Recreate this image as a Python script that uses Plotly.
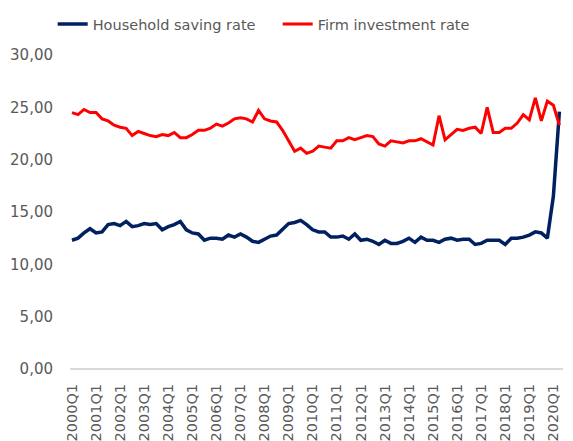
import plotly.graph_objs as go

# Quarterly data 2000Q1 - 2020Q2
quarters = [f'{y}Q{q}' for y in range(2000, 2021) for q in range(1, 5)][:82]

household_saving = [
    12.3, 12.5, 13.0, 13.4, 13.0, 13.1, 13.8, 13.9,
    13.7, 14.1, 13.6, 13.7, 13.9, 13.8, 13.9, 13.3,
    13.6, 13.8, 14.1, 13.3, 13.0, 12.9, 12.3, 12.5,
    12.5, 12.4, 12.8, 12.6, 12.9, 12.6, 12.2, 12.1,
    12.4, 12.7, 12.8, 13.3, 13.9, 14.0, 14.2, 13.8,
    13.3, 13.1, 13.1, 12.6, 12.6, 12.7, 12.4, 12.9,
    12.3, 12.4, 12.2, 11.9, 12.3, 12.0, 12.0, 12.2,
    12.5, 12.1, 12.6, 12.3, 12.3, 12.1, 12.4, 12.5,
    12.3, 12.4, 12.4, 11.9, 12.0, 12.3, 12.3, 12.3,
    11.9, 12.5, 12.5, 12.6, 12.8, 13.1, 13.0, 12.5,
    16.5, 24.6,
]

firm_investment = [
    24.5, 24.3, 24.8, 24.5, 24.5, 23.9, 23.7, 23.3,
    23.1, 23.0, 22.3, 22.7, 22.5, 22.3, 22.2, 22.4,
    22.3, 22.6, 22.1, 22.1, 22.4, 22.8, 22.8, 23.0,
    23.4, 23.2, 23.5, 23.9, 24.0, 23.9, 23.6, 24.7,
    23.9, 23.7, 23.6, 22.8, 21.8, 20.8, 21.1, 20.6,
    20.8, 21.3, 21.2, 21.1, 21.8, 21.8, 22.1, 21.9,
    22.1, 22.3, 22.2, 21.5, 21.3, 21.8, 21.7, 21.6,
    21.8, 21.8, 22.0, 21.7, 21.4, 24.2, 21.9, 22.4,
    22.9, 22.8, 23.0, 23.1, 22.5, 25.0, 22.6, 22.6,
    23.0, 23.0, 23.5, 24.3, 23.8, 25.9, 23.7, 25.6,
    25.2, 23.3,
]

tick_labels = [q for q in quarters if q.endswith('Q1')]

font = 'DejaVu Sans'
grey = '#595959'

fig = go.Figure()
fig.add_trace(go.Scatter(x=quarters, y=household_saving, mode='lines',
                         name='Household saving rate',
                         line={'color': '#002060', 'width': 3.5}))
fig.add_trace(go.Scatter(x=quarters, y=firm_investment, mode='lines',
                         name='Firm investment rate',
                         line={'color': '#ff0000', 'width': 3}))

# page body has an 8px margin, so margins are offset by that
fig.layout.update(
    width=573, height=441,
    margin={'l': 62, 'r': 18, 't': 47, 'b': 80, 'autoexpand': False},
    plot_bgcolor='white', paper_bgcolor='white',
    separators=', ',
    font={'family': font, 'color': grey, 'size': 13},
    showlegend=True,
    legend={'orientation': 'h', 'x': 0.078, 'xref': 'container',
            'xanchor': 'left',
            'y': 1.0, 'yref': 'container', 'yanchor': 'top',
            'font': {'size': 14.5, 'color': grey}, 'itemwidth': 30,
            'entrywidth': 180, 'entrywidthmode': 'pixels'},
    xaxis={'type': 'category', 'range': [-0.33, 81.6], 'automargin': False,
           'tickvals': tick_labels, 'ticktext': tick_labels,
           'tickangle': -90, 'showgrid': False, 'zeroline': False,
           'showline': False, 'ticks': '', 'ticklabelstandoff': 11,
           'tickfont': {'size': 14.5, 'color': grey}},
    yaxis={'range': [0, 30], 'dtick': 5, 'tickformat': '.2f',
           'automargin': False,
           'showgrid': False, 'zeroline': True, 'zerolinecolor': '#d9d9d9',
           'zerolinewidth': 1.5, 'ticks': '', 'ticklabelstandoff': 16,
           'tickfont': {'size': 15, 'color': grey}},
)

fig.write_html('out.html')
